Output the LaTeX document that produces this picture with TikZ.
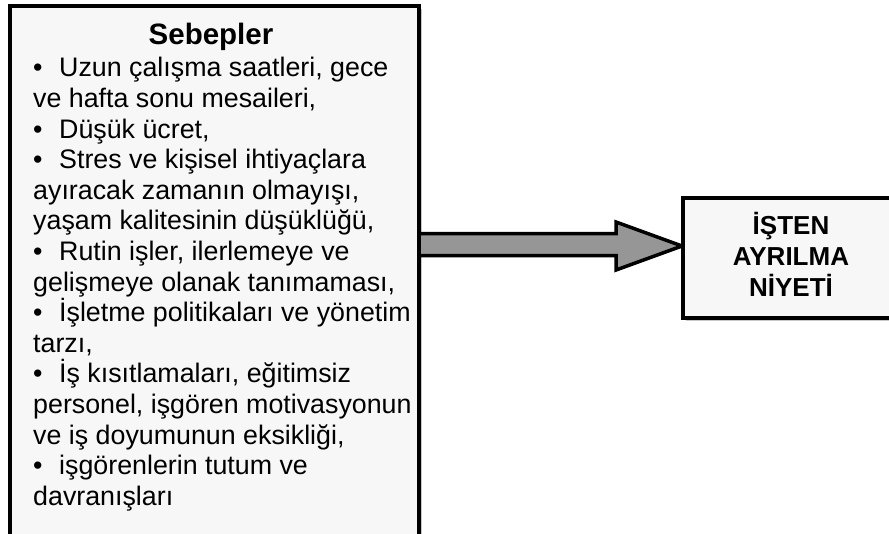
\documentclass[tikz,border=0pt]{standalone}
\usepackage{fontspec}
\setmainfont{Liberation Sans}
\definecolor{boxfill}{HTML}{F7F7F7}
\definecolor{arrowgray}{HTML}{969696}
\definecolor{shadowgray}{HTML}{C8C8C8}
\pgfdeclarelayer{background}
\pgfsetlayers{background,main}
\newcommand\itemdot{\makebox[26pt][l]{•}}
\begin{document}
\begin{tikzpicture}[x=1pt,y=-1pt,
  boxframe/.style={draw=black, line width=4pt, fill=boxfill, inner sep=0pt, outer sep=0pt, anchor=north west},
  boxshadow/.style={fill=shadowgray},
  blockarrow/.style={draw=black, line width=3.5pt, fill=arrowgray, line join=miter},
  bodytext/.style={font=\fontsize{26.8}{30.6}\selectfont, inner sep=0pt, align=left},
  titletext/.style={font=\bfseries\fontsize{29.5}{33}\selectfont, inner sep=0pt},
  headtext/.style={font=\bfseries\fontsize{26}{31}\selectfont, inner sep=0pt, align=center}]
\useasboundingbox (0,0) rectangle (889,533);

% thick arrow between the two boxes
\draw[blockarrow] (418.5,233.5) -- (616,233.5) -- (616,222) -- (682,246)
  -- (616,270) -- (616,255.5) -- (418.5,255.5);

% causes box (runs off the lower edge) and result box (runs off the right edge)
\node[boxframe, minimum width=409pt, minimum height=560pt] (causes) at (9.5,6) {};
\node[boxframe, minimum width=216pt, minimum height=120pt] (intent) at (683,198) {};

\begin{pgfonlayer}{background}
  \fill[boxshadow] ([shift={(3,3)}]causes.north west) rectangle ([shift={(3,3)}]causes.south east);
  \fill[boxshadow] ([shift={(3,3)}]intent.north west) rectangle ([shift={(3,3)}]intent.south east);
\end{pgfonlayer}

\node[titletext, anchor=base] (title) at (211,44) {Sebepler};
\node[bodytext, anchor=north west] (list) at (33,57.2) {%
\itemdot Uzun çalışma saatleri, gece\\
ve hafta sonu mesaileri,\\
\itemdot Düşük ücret,\\
\itemdot Stres ve kişisel ihtiyaçlara\\
ayıracak zamanın olmayışı,\\
yaşam kalitesinin düşüklüğü,\\
\itemdot Rutin işler, ilerlemeye ve\\
gelişmeye olanak tanımaması,\\
\itemdot İşletme politikaları ve yönetim\\
tarzı,\\
\itemdot İş kısıtlamaları, eğitimsiz\\
personel, işgören motivasyonun\\
ve iş doyumunun eksikliği,\\
\itemdot işgörenlerin tutum ve\\
davranışları};

\node[headtext] (intenttext) at (791,254) {İŞTEN\\AYRILMA\\NİYETİ};
\end{tikzpicture}
\end{document}
